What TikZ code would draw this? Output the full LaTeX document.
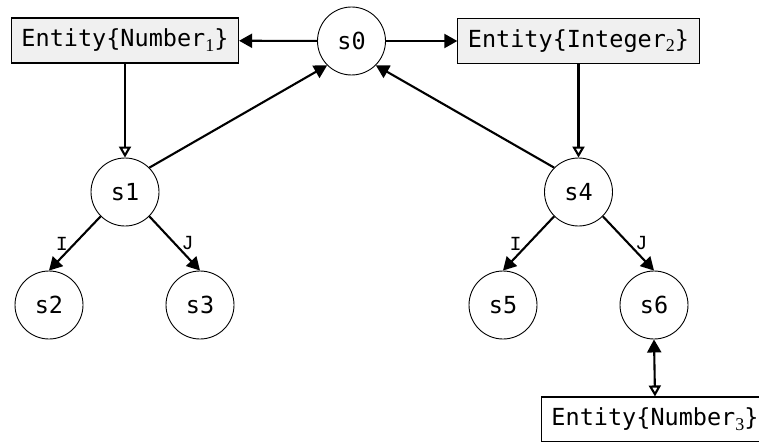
\documentclass[tikz,border=0pt]{standalone}
\usepackage{fontspec}
\setmainfont{DejaVu Sans Mono}
\newfontfamily\idxfont{Liberation Serif}
\newfontfamily\lblfont{Liberation Mono}
\usetikzlibrary{arrows.meta}
% lowered serif index digit after an entity type name
\newcommand{\idx}[1]{\raisebox{-4.5pt}{\idxfont\fontsize{18}{20}\selectfont #1}}
\definecolor{boxfill}{HTML}{F0F0F0}
\begin{document}
\begin{tikzpicture}[x=1pt,y=-1pt,
  font=\fontsize{23.5}{28}\selectfont,
  state/.style={circle,draw,line width=0.9pt,minimum size=68pt,inner sep=0pt},
  entity/.style={rectangle,draw,line width=1.1pt,fill=boxfill,minimum height=45pt,inner xsep=10pt,inner ysep=0pt},
  link/.style={line width=2.1pt,-{Triangle[length=13pt,width=14pt]}},
  typeof/.style={line width=2.1pt,-{Triangle[open,length=11pt,width=12pt]}},
  edgelabel/.style={font=\lblfont\fontsize{20}{24}\selectfont,inner sep=2pt}]
\useasboundingbox (0,0) rectangle (759,441);

% entity boxes
\node[entity] (e1) at (125,40.5) {Entity\{Number\idx{1}\}};
\node[entity] (e2) at (578.5,41) {Entity\{Integer\idx{2}\}};
\node[entity,fill=white] (e3) at (655,419.5) {Entity\{Number\idx{3}\}};

% states
\node[state] (s0) at (351.5,41) {s0};
\node[state] (s1) at (125,192) {s1};
\node[state] (s2) at (49,305) {s2};
\node[state] (s3) at (200,305) {s3};
\node[state] (s4) at (578.5,192) {s4};
\node[state] (s5) at (503,305) {s5};
\node[state] (s6) at (654,305) {s6};

% references from s0 to its entities
\draw[link] (s0) -- (e1);
\draw[link] (s0) -- (e2);

% child states pointing back to the root
\draw[link] (s1.north east) -- (s0.south west);
\draw[link] (s4.north west) -- (s0.south east);

% type edges
\draw[typeof] (e1.south) -- (s1.north);
\draw[typeof] (e2.south) -- (s4.north);

% labelled transitions
\draw[link] (s1.south west) -- node[edgelabel,left=4pt] {I} (s2.north);
\draw[link] (s1.south east) -- node[edgelabel,right=4pt] {J} (s3.north);
\draw[link] (s4.south west) -- node[edgelabel,left=4pt] {I} (s5.north);
\draw[link] (s4.south east) -- node[edgelabel,right=4pt] {J} (s6.north);

% two-way link between s6 and its entity
\draw[line width=2.1pt,{Triangle[length=13pt,width=14pt]}-{Triangle[open,length=11pt,width=12pt]}] (s6.south) -- (e3.north);
\end{tikzpicture}
\end{document}
